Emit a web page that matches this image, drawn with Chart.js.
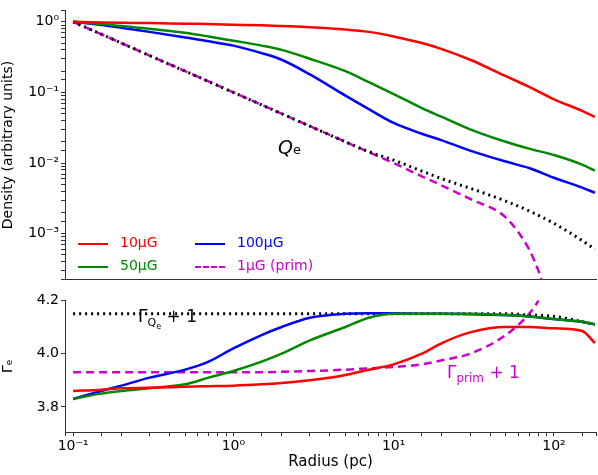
<!DOCTYPE html>
<html><head><meta charset="utf-8">
<script src="https://cdn.jsdelivr.net/npm/chart.js@4"></script>
<style>
body{margin:0;width:598px;height:475px;background:#fff;position:relative;font-family:"DejaVu Sans",sans-serif;overflow:hidden}
canvas{position:absolute;left:0}
.t{position:absolute;white-space:nowrap}
.lg{position:absolute;font-size:14px}
.ln{position:absolute;width:30px;height:0;border-top:2.5px solid}
</style></head><body>
<canvas id="c1" width="598" height="290" style="top:0;width:598px;height:290px"></canvas>
<canvas id="c2" width="598" height="185" style="top:290px;width:598px;height:185px"></canvas>
<div class="ln" style="left:78px;top:243px;border-color:#f00"></div><div class="lg" style="left:120px;top:234px;color:#f00">10μG</div>
<div class="ln" style="left:195px;top:243px;border-color:#00f"></div><div class="lg" style="left:237px;top:234px;color:#00f">100μG</div>
<div class="ln" style="left:78px;top:266px;border-color:#080"></div><div class="lg" style="left:120px;top:257px;color:#080">50μG</div>
<div class="ln" style="left:195px;top:266px;border-color:#c0c;border-top-style:dashed"></div><div class="lg" style="left:237px;top:257px;color:#c0c">1μG (prim)</div>
<div class="t" style="left:278px;top:136px;font-size:19px;font-style:italic">Q<span style="font-size:13px;font-style:normal">e</span></div>
<div class="t" style="left:138px;top:306px;font-size:17px">Γ<sub style="font-size:11px">Q<sub style="font-size:8px">e</sub></sub> + 1</div>
<div class="t" style="left:447px;top:362px;font-size:17px;color:#c0c">Γ<sub style="font-size:12px">prim</sub> + 1</div>
<script>
const radius=[0.1,0.15,0.2,0.3,0.5,0.7,1,1.5,2,3,5,7,10,15,20,30,50,70,100,150,180];
const primR=[0.1,0.15,0.2,0.3,0.5,0.7,1,1.5,2,3,5,7,10,15,20,30,50,70,80,85];
const dens10=[1,.98,.97,.96,.94,.93,.91,.89,.87,.84,.78,.72,.62,.5,.41,.29,.17,.12,.08,.055,.045];
const dens50=[1,.93,.87,.8,.7,.62,.54,.46,.4,.3,.2,.14,.095,.06,.045,.03,.02,.016,.013,.0095,.0078];
const dens100=[1,.9,.82,.72,.6,.53,.46,.36,.29,.18,.09,.058,.037,.026,.021,.015,.0105,.0085,.0062,.0045,.0038];
const densQe=[1,.667,.5,.333,.2,.143,.1,.0667,.05,.0333,.02,.0145,.011,.0077,.006,.0044,.0029,.0021,.0014,.0008,.0006];
const densPrim=[1,.667,.5,.333,.2,.143,.1,.0667,.05,.0333,.02,.0143,.01,.0065,.0048,.0031,.0017,.0006,.0003,.0002];
const gam10=[3.86,3.865,3.87,3.872,3.876,3.878,3.88,3.885,3.89,3.9,3.92,3.94,3.96,4.0,4.04,4.08,4.1,4.1,4.095,4.085,4.04];
const gam50=[3.83,3.85,3.86,3.87,3.885,3.91,3.935,3.97,4.0,4.05,4.1,4.135,4.15,4.15,4.15,4.15,4.145,4.14,4.13,4.12,4.11];
const gam100=[3.83,3.86,3.88,3.91,3.94,3.97,4.02,4.07,4.1,4.135,4.15,4.152,4.152,4.15,4.15,4.148,4.145,4.14,4.13,4.12,4.11];
const gamQe=[4.15,4.15,4.15,4.15,4.15,4.15,4.15,4.15,4.15,4.15,4.15,4.15,4.15,4.15,4.15,4.15,4.15,4.145,4.14,4.12,4.11];
const gamPrim=[3.93,3.93,3.93,3.93,3.93,3.93,3.93,3.93,3.932,3.935,3.94,3.945,3.95,3.96,3.975,4.0,4.07,4.15,4.2,4.24];
const xTickLabels={'0.1':'10⁻¹','1':'10⁰','10':'10¹','100':'10²'};
const yTickLabels={'1':'10⁰','0.1':'10⁻¹','0.01':'10⁻²','0.001':'10⁻³'};
const XMIN=0.089,XMAX=183;
const pts=(xs,ys)=>xs.map((x,i)=>({x,y:ys[i]}));
function ds(data,color,style){return{data,borderColor:color,borderWidth:style==='dot'?3:2.5,borderDash:style==='dash'?[8,5]:style==='dot'?[2,4]:[],pointRadius:0,cubicInterpolationMode:'monotone',fill:false};}
const font={family:'"DejaVu Sans"',size:14};
function xAxis(show){return{type:'logarithmic',min:XMIN,max:XMAX,
 border:{color:'#333',width:1},grid:{drawOnChartArea:false,drawTicks:show,tickLength:4,color:'#333'},
 ticks:{display:show,autoSkip:false,maxRotation:0,color:'#000',font,padding:2,callback:v=>xTickLabels[String(v)]||''},
 title:{display:show,text:'Radius (pc)',color:'#000',font:{family:'"DejaVu Sans"',size:15},padding:{top:0}},
 afterFit:s=>{s.height=show?43:0;}};}
function yTitle(t){return{display:true,text:t,color:'#000',font:{family:'"DejaVu Sans"',size:14},padding:0};}
new Chart(document.getElementById('c1'),{type:'line',
 data:{datasets:[ds(pts(radius,dens10),'#f00'),ds(pts(radius,dens50),'#080'),ds(pts(radius,dens100),'#00f'),ds(pts(radius,densQe),'#000','dot'),ds(pts(primR,densPrim),'#c0c','dash')]},
 options:{responsive:false,animation:false,devicePixelRatio:1,layout:{padding:{top:8,right:2,left:0,bottom:0}},
  plugins:{legend:{display:false},tooltip:{enabled:false}},
  scales:{x:xAxis(false),y:{type:'logarithmic',min:2.24e-4,max:1.45,border:{color:'#333'},
   grid:{drawOnChartArea:false,tickLength:4,color:'#333'},
   ticks:{autoSkip:false,color:'#000',font,padding:2,callback:v=>yTickLabels[String(v)]||''},
   title:yTitle('Density (arbitrary units)'),
   afterFit:s=>{s.width=65;}}}}});
new Chart(document.getElementById('c2'),{type:'line',
 data:{datasets:[ds(pts(radius,gam10),'#f00'),ds(pts(radius,gam50),'#080'),ds(pts(radius,gam100),'#00f'),ds(pts(radius,gamQe),'#000','dot'),ds(pts(primR,gamPrim),'#c0c','dash')]},
 options:{responsive:false,animation:false,devicePixelRatio:1,layout:{padding:{top:0,right:2,left:0,bottom:0}},
  plugins:{legend:{display:false},tooltip:{enabled:false}},
  scales:{x:xAxis(true),y:{min:3.706,max:4.2,border:{color:'#333'},
   grid:{drawOnChartArea:false,tickLength:4,color:'#333'},
   afterBuildTicks:s=>{s.ticks=[{value:3.8},{value:4.0},{value:4.2}];},
   ticks:{color:'#000',font,padding:2,callback:v=>v.toFixed(1)},
   title:yTitle('Γₑ'),
   afterFit:s=>{s.width=65;}}}}});
</script>
</body></html>
